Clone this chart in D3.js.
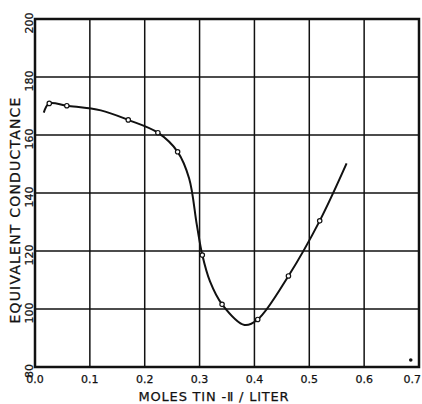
<!DOCTYPE html>
<html lang="en">
<head>
<meta charset="UTF-8">
<title>Equivalent conductance</title>
<style>
  body { margin: 0; background: #fff; }
  text { font-family: "DejaVu Sans", sans-serif; fill: #111; stroke: #111; stroke-width: 0.25; }
</style>
</head>
<body>
<svg></svg>
<script src="https://d3js.org/d3.v7.min.js"></script>
<script>
// measured points (open circles)
const pointX = [0.026, 0.058, 0.17, 0.224, 0.26, 0.305, 0.341, 0.406, 0.462, 0.519];
const pointY = [170.9, 170.1, 165.2, 160.8, 154.2, 118.6, 101.6, 96.4, 111.4, 130.4];
// hand drawn curve through them
const curveX = [0.016, 0.026, 0.058, 0.12, 0.17, 0.224, 0.26, 0.281, 0.295, 0.305, 0.319, 0.341, 0.382, 0.406, 0.462, 0.519, 0.568];
const curveY = [167.7, 170.9, 170.1, 168.5, 165.2, 160.8, 154.2, 145, 129, 118.6, 109.5, 101.6, 94.5, 96.4, 111.4, 130.4, 150.2];
// stray dot near the corner
const strayX = [0.685];
const strayY = [82.4];

const xTicks = [0, 0.1, 0.2, 0.3, 0.4, 0.5, 0.6, 0.7];
const yTicks = [80, 100, 120, 140, 160, 180, 200];

const width = 422, height = 404;
const margin = {top: 19, right: 3, bottom: 37, left: 35};

const svg = d3.select("svg").attr("width", width).attr("height", height);

const x = d3.scaleLinear().domain([0, 0.7]).range([margin.left, width - margin.right]);
const y = d3.scaleLinear().domain([80, 200]).range([height - margin.bottom, margin.top]);

// grid
svg.append("g")
  .selectAll("line")
  .data(xTicks)
  .enter().append("line")
    .attr("x1", d => x(d)).attr("x2", d => x(d))
    .attr("y1", y(80)).attr("y2", y(200))
    .attr("stroke", "#111").attr("stroke-width", 1.5);

svg.append("g")
  .selectAll("line")
  .data(yTicks)
  .enter().append("line")
    .attr("x1", x(0)).attr("x2", x(0.7))
    .attr("y1", d => y(d)).attr("y2", d => y(d))
    .attr("stroke", "#111").attr("stroke-width", 1.5);

// frame
svg.append("rect")
  .attr("x", x(0)).attr("y", y(200))
  .attr("width", x(0.7) - x(0)).attr("height", y(80) - y(200))
  .attr("fill", "none").attr("stroke", "#111").attr("stroke-width", 2.5);

// x tick labels (last one pulled in so it stays on the page)
svg.append("g")
  .selectAll("text")
  .data(xTicks)
  .enter().append("text")
    .attr("x", (d, i) => i === xTicks.length - 1 ? width - 1 : x(d))
    .attr("y", 383)
    .attr("text-anchor", (d, i) => i === xTicks.length - 1 ? "end" : "middle")
    .attr("font-size", 11)
    .text(d => d3.format(".1f")(d));

// y tick labels, rotated
svg.append("g")
  .selectAll("text")
  .data(yTicks)
  .enter().append("text")
    .attr("transform", d => `translate(33,${y(d) + 4}) rotate(-90)`)
    .attr("text-anchor", "middle")
    .attr("font-size", 11)
    .text(d => d);

// axis titles
svg.append("text")
  .attr("x", 214).attr("y", 401)
  .attr("text-anchor", "middle")
  .attr("font-size", 13)
  .attr("letter-spacing", 0.8)
  .text("MOLES TIN -\u2161 / LITER");

svg.append("text")
  .attr("transform", `translate(20,210) rotate(-90)`)
  .attr("text-anchor", "middle")
  .attr("font-size", 14)
  .attr("letter-spacing", 1.2)
  .text("EQUIVALENT CONDUCTANCE");

// curve
const line = d3.line()
  .x(i => x(curveX[i]))
  .y(i => y(curveY[i]))
  .curve(d3.curveCatmullRom.alpha(0.5));

svg.append("path")
  .attr("d", line(d3.range(curveX.length)))
  .attr("fill", "none")
  .attr("stroke", "#111")
  .attr("stroke-width", 2);

// points
svg.append("g")
  .selectAll("circle")
  .data(d3.range(pointX.length))
  .enter().append("circle")
    .attr("cx", i => x(pointX[i]))
    .attr("cy", i => y(pointY[i]))
    .attr("r", 2.2)
    .attr("fill", "#fff")
    .attr("stroke", "#111")
    .attr("stroke-width", 1.2);

svg.append("g")
  .selectAll("circle")
  .data(d3.range(strayX.length))
  .enter().append("circle")
    .attr("cx", i => x(strayX[i]))
    .attr("cy", i => y(strayY[i]))
    .attr("r", 1.8)
    .attr("fill", "#111");
</script>
</body>
</html>
